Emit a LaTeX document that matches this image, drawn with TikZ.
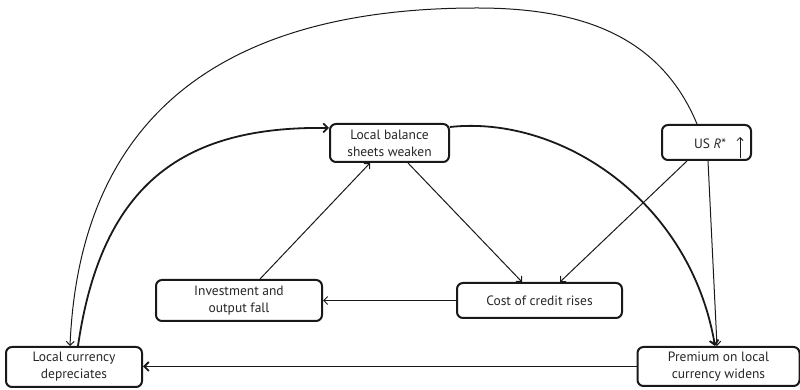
\documentclass[tikz,border=0pt]{standalone}
\usepackage{fontspec}
\setmainfont{PT Sans}
\usetikzlibrary{arrows.meta}
\tikzset{
  box/.style={draw=black!90, line width=2pt, rounded corners=6pt, align=center,
    inner sep=0pt, font=\fontsize{13.5}{17}\selectfont, text=black!85},
  conn/.style={line width=1pt, draw=black!90, -{Straight Barb[length=4pt,width=8pt]}},
  thickconn/.style={line width=1.8pt, draw=black!90, -{Straight Barb[length=4.5pt,width=9pt]}}
}
\begin{document}
\begin{tikzpicture}[x=1pt,y=1pt]
\useasboundingbox (0,0) rectangle (800,390);
\node[box, minimum width=119pt, minimum height=38pt] (bal) at (389.5,247) {Local balance\\sheets weaken};
\node[box, minimum width=89pt, minimum height=35pt] (us) at (706.5,247.5) {};
\node[anchor=center, font=\fontsize{13.5}{17}\selectfont, text=black!85] (ustext) at (710,246) {US \textit{R}*};
\coordinate (arrbase) at (740,232);
\node[box, minimum width=166pt, minimum height=41pt] (inv) at (239,89.5) {Investment and\\output fall};
\node[box, minimum width=165pt, minimum height=35pt] (cost) at (539.5,89.5) {Cost of credit rises};
\node[box, minimum width=136pt, minimum height=40pt] (loc) at (74,23) {Local currency\\depreciates};
\node[box, minimum width=162pt, minimum height=39pt] (prem) at (718.5,23.5) {Premium on local\\currency widens};
\coordinate (apex) at (477,382);

\draw[line width=0.8pt, draw=black!90, -{Straight Barb[length=3pt,width=6pt]}] (arrbase) -- ++(0,21);

\draw[conn] ([xshift=18.5pt]bal.south) -- ([xshift=-17.5pt]cost.north);
\draw[conn] ([xshift=-19.5pt]us.south) -- ([xshift=20.5pt]cost.north);
\draw[conn] (cost.west) -- (inv.east);
\draw[conn] ([xshift=21pt]inv.north) -- ([xshift=-19.5pt]bal.south);
\draw[thickconn] (prem.west) -- (prem.west -| loc.east);
\draw[thickconn] ([xshift=4pt]loc.north) .. controls (102,210) and (187,264) .. ([yshift=15pt]bal.west);
\draw[thickconn] ([yshift=16pt]bal.east) .. controls (560,275) and (690,190) .. ([xshift=-3.5pt]prem.north);
\draw[conn] ([xshift=1.5pt]us.south) -- ([xshift=-1.5pt]prem.north);
\draw[conn] ([xshift=-9.5pt]us.north) .. controls (660,355) and (580,382) .. (apex)
   .. controls (230,382) and (80,280) .. ([xshift=-4pt]loc.north);
\end{tikzpicture}
\end{document}
